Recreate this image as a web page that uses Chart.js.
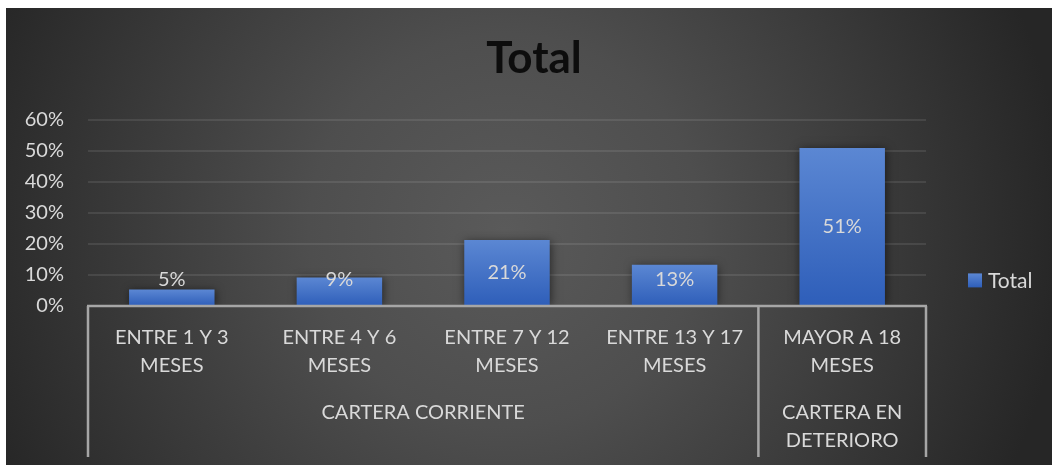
<!DOCTYPE html>
<html>
<head>
<meta charset="utf-8">
<script src="https://cdn.jsdelivr.net/npm/chart.js@4.4.1/dist/chart.umd.min.js"></script>
<style>
  html, body { margin: 0; padding: 0; background: #fff; }
  #wrap {
    position: absolute; left: 6px; top: 8px; width: 1046px; height: 457px;
    background: radial-gradient(circle 560px at 499px 222px, #5a5a5a 0%, #4e4e4e 35%, #262626 100%);
  }
</style>
</head>
<body>
<div id="wrap"><canvas id="chart"></canvas></div>
<script>
const categories = [
  ['ENTRE 1 Y 3', 'MESES'],
  ['ENTRE 4 Y 6', 'MESES'],
  ['ENTRE 7 Y 12', 'MESES'],
  ['ENTRE 13 Y 17', 'MESES'],
  ['MAYOR A 18', 'MESES']
];
const totals = [0.053, 0.092, 0.213, 0.133, 0.509];
const groupLabels = [['CARTERA CORRIENTE'], ['CARTERA EN', 'DETERIORO']];
const groupSizes = [4, 1];

const FONT = 'Lato, "Open Sans", sans-serif';
const TEXT = '#d9d9d9';

const pct = v => Math.round(v * 100) + '%';

const barFill = (ctx) => {
  const chart = ctx.chart;
  const y = chart.scales.y;
  if (!y || typeof ctx.raw !== 'number') return '#4472c4';
  const top = y.getPixelForValue(ctx.raw);
  const bottom = y.getPixelForValue(0);
  if (!isFinite(top) || !isFinite(bottom) || top === bottom) return '#4472c4';
  const g = chart.ctx.createLinearGradient(0, top, 0, bottom);
  g.addColorStop(0, '#5b87d3');
  g.addColorStop(1, '#2e5eb9');
  return g;
};

// soft shadow under bars + value labels
const barExtras = {
  id: 'barExtras',
  beforeDatasetsDraw(chart) {
    const c = chart.ctx;
    c.save();
    c.shadowColor = 'rgba(0,0,0,0.55)';
    c.shadowBlur = 9;
    c.shadowOffsetX = 1;
    c.shadowOffsetY = 1;
  },
  afterDatasetsDraw(chart) {
    const c = chart.ctx;
    c.restore();
    const meta = chart.getDatasetMeta(0);
    c.save();
    c.font = '20px ' + FONT;
    c.fillStyle = TEXT;
    c.textAlign = 'center';
    c.textBaseline = 'middle';
    meta.data.forEach((bar, i) => {
      const mid = (bar.y + bar.base) / 2;
      const y = Math.min(mid, bar.base - 25);
      c.fillText(pct(totals[i]), bar.x, y);
    });
    c.restore();
  }
};

// zero line, group separators and second level labels
const groupAxis = {
  id: 'groupAxis',
  afterDraw(chart) {
    const c = chart.ctx;
    const x = chart.scales.x;
    const area = chart.chartArea;
    const step = (area.right - area.left) / categories.length;
    const axisBottom = x.bottom;
    c.save();
    c.strokeStyle = '#a6a6a6';
    c.lineWidth = 2.5;
    c.beginPath();
    c.moveTo(area.left - 1, area.bottom);
    c.lineTo(area.right + 1, area.bottom);
    c.stroke();

    let idx = 0;
    const edges = [area.left];
    groupSizes.forEach(n => { idx += n; edges.push(area.left + idx * step); });
    c.beginPath();
    edges.forEach(ex => {
      c.moveTo(ex, area.bottom);
      c.lineTo(ex, axisBottom);
    });
    c.stroke();

    c.font = '20px ' + FONT;
    c.fillStyle = TEXT;
    c.textAlign = 'center';
    c.textBaseline = 'middle';
    groupLabels.forEach((lines, g) => {
      const cx = (edges[g] + edges[g + 1]) / 2;
      lines.forEach((t, k) => c.fillText(t, cx, area.bottom + 107 + k * 28));
    });
    c.restore();
  }
};

// legend on the right
const sideLegend = {
  id: 'sideLegend',
  afterDraw(chart) {
    const c = chart.ctx;
    const area = chart.chartArea;
    const ds = chart.data.datasets[0];
    const cy = (chart.titleBlock.bottom + chart.height) / 2 - 12;
    const bx = area.right + 42;
    c.save();
    const g = c.createLinearGradient(0, cy - 7, 0, cy + 7);
    g.addColorStop(0, '#5b87d3');
    g.addColorStop(1, '#2e5eb9');
    c.fillStyle = g;
    c.fillRect(bx, cy - 7, 14, 14);
    c.font = '21px ' + FONT;
    c.fillStyle = TEXT;
    c.textAlign = 'left';
    c.textBaseline = 'middle';
    c.fillText(ds.label, bx + 20, cy + 1);
    c.restore();
  }
};

new Chart(document.getElementById('chart'), {
  type: 'bar',
  data: {
    labels: categories,
    datasets: [{
      label: 'Total',
      data: totals,
      backgroundColor: barFill,
      borderWidth: 0,
      categoryPercentage: 1,
      barPercentage: 0.51
    }]
  },
  options: {
    responsive: true,
    maintainAspectRatio: false,
    animation: false,
    layout: { padding: { top: 0, left: 10, right: 0, bottom: 8 } },
    plugins: {
      legend: { display: false },
      tooltip: { enabled: false },
      title: {
        display: true,
        text: 'Total',
        color: '#0d0d0d',
        font: { family: FONT, size: 44, weight: 'bold', lineHeight: 1.2 },
        padding: { top: 24, bottom: 35 }
      }
    },
    scales: {
      x: {
        grid: { display: false, drawTicks: false },
        border: { display: false },
        ticks: {
          color: TEXT,
          font: { family: FONT, size: 20, lineHeight: '28px' },
          padding: 18,
          maxRotation: 0,
          autoSkip: false
        },
        afterFit(scale) { scale.height = 151; }
      },
      y: {
        min: 0,
        max: 0.6,
        grid: { color: 'rgba(255,255,255,0.09)', lineWidth: 2, drawTicks: false },
        border: { display: false },
        ticks: {
          stepSize: 0.1,
          color: TEXT,
          font: { family: FONT, size: 20 },
          padding: 24,
          callback: v => pct(v)
        },
        afterFit(scale) { scale.width = 72; }
      },
      // reserves the room taken by the legend on the right
      legendSpace: {
        type: 'linear',
        position: 'right',
        display: true,
        grid: { display: false, drawTicks: false },
        border: { display: false },
        ticks: { display: false },
        afterFit(scale) { scale.width = 126; }
      }
    }
  },
  plugins: [barExtras, groupAxis, sideLegend]
});
</script>
</body>
</html>
